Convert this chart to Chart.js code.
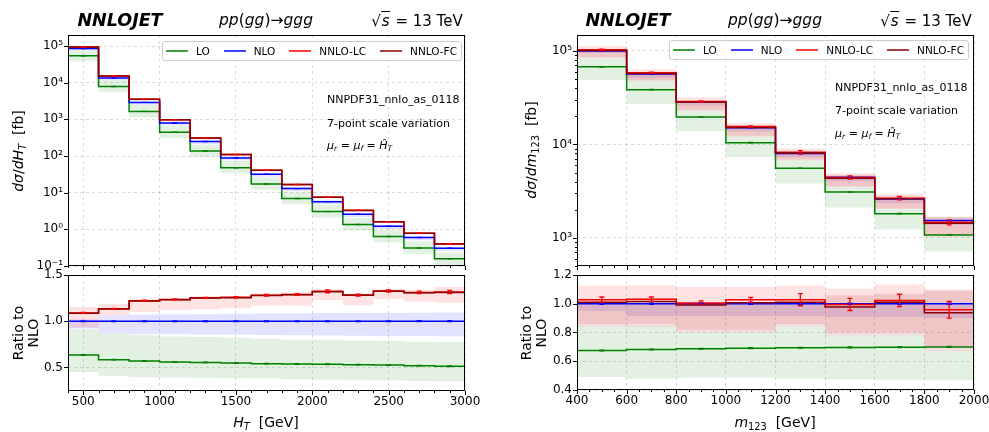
<!DOCTYPE html>
<html>
<head>
<meta charset="utf-8">
<script src="https://cdn.jsdelivr.net/npm/chart.js@4.4.1/dist/chart.umd.min.js"></script>
<style>
  body { margin: 0; background: #fff; overflow: hidden; font-family: "DejaVu Sans", sans-serif; }
  #wrap { position: relative; width: 989px; height: 432px; overflow: hidden; }
  canvas { position: absolute; z-index: 1; }
  .t { position: absolute; white-space: nowrap; transform: translate(-50%, -50%); color: #000; z-index: 2; }
  .rot { transform: translate(-50%, -50%) rotate(-90deg); text-align: center; }
  .note { position: absolute; white-space: nowrap; transform: translateY(-50%); font-size: 11px; z-index: 2; }
  sub { font-size: 0.7em; vertical-align: -0.3em; line-height: 0; }
  .legend { position: absolute; z-index: 3; height: 20px; box-sizing: border-box; border: 1px solid #cccccc;
            border-radius: 3px; background: rgba(255,255,255,0.85); display: flex; align-items: center;
            padding: 0 4px 0 3px; font-size: 10.5px; }
  .legend .it { display: flex; align-items: center; margin-right: 14px; }
  .legend .it:last-child { margin-right: 0; }
  .legend .ln { display: inline-block; width: 22px; height: 2px; margin-right: 8px; opacity: 0.75; }
</style>
</head>
<body>
<div id="wrap">
  <canvas id="cTL" width="490" height="285" style="left:0;top:0"></canvas>
  <canvas id="cBL" width="490" height="170" style="left:0;top:262px"></canvas>
  <canvas id="cTR" width="520" height="285" style="left:490px;top:0"></canvas>
  <canvas id="cBR" width="520" height="170" style="left:490px;top:262px"></canvas>

  <div class="t" style="left:120px;top:20px;font-size:17.5px;font-weight:bold;font-style:italic">NNLOJET</div>
  <div class="t" style="left:266px;top:20px;font-size:15.5px"><i>pp</i>(<i>gg</i>)→<i>ggg</i></div>
  <div class="t" style="left:417px;top:21px;font-size:15px">√<span style="border-top:1px solid #000;font-style:italic;padding:0 1px">s</span> = 13 TeV</div>
  <div class="t" style="left:628px;top:20px;font-size:17.5px;font-weight:bold;font-style:italic">NNLOJET</div>
  <div class="t" style="left:775px;top:20px;font-size:15.5px"><i>pp</i>(<i>gg</i>)→<i>ggg</i></div>
  <div class="t" style="left:926px;top:21px;font-size:15px">√<span style="border-top:1px solid #000;font-style:italic;padding:0 1px">s</span> = 13 TeV</div>

  <div class="legend" id="legL" style="left:162px;top:41px"></div>
  <div class="legend" id="legR" style="left:669px;top:40px"></div>

  <div class="note" style="left:327px;top:99px">NNPDF31_nnlo_as_0118</div>
  <div class="note" style="left:327px;top:123px">7-point scale variation</div>
  <div class="note" style="left:327px;top:145px"><i>μ</i><sub><i>r</i></sub> = <i>μ</i><sub><i>f</i></sub> = <i>Ĥ</i><sub><i>T</i></sub></div>
  <div class="note" style="left:835px;top:87px">NNPDF31_nnlo_as_0118</div>
  <div class="note" style="left:835px;top:110px">7-point scale variation</div>
  <div class="note" style="left:835px;top:133px"><i>μ</i><sub><i>r</i></sub> = <i>μ</i><sub><i>f</i></sub> = <i>Ĥ</i><sub><i>T</i></sub></div>

  <div class="t rot" style="left:18px;top:151px;font-size:14px"><i>dσ</i>/<i>dH</i><sub><i>T</i></sub>&nbsp;&nbsp;[fb]</div>
  <div class="t rot" style="left:26px;top:333px;font-size:14px;line-height:15px">Ratio to<br>NLO</div>
  <div class="t" style="left:266px;top:422px;font-size:14px"><i>H</i><sub><i>T</i></sub>&nbsp;&nbsp;[GeV]</div>
  <div class="t rot" style="left:531px;top:150px;font-size:14px"><i>dσ</i>/<i>dm</i><sub>123</sub>&nbsp;&nbsp;[fb]</div>
  <div class="t rot" style="left:534px;top:333px;font-size:14px;line-height:15px">Ratio to<br>NLO</div>
  <div class="t" style="left:775px;top:422px;font-size:14px"><i>m</i><sub>123</sub>&nbsp;&nbsp;[GeV]</div>
</div>

<script>
// series
const seriesNames = ['LO', 'NLO', 'NNLO-LC', 'NNLO-FC'];
const lineColors = ['#008000', '#0000ff', '#ff0000', '#8b0000'];
const bandColors = ['rgba(0,128,0,0.11)', 'rgba(0,0,255,0.11)', 'rgba(255,0,0,0.11)', 'rgba(139,0,0,0.13)'];

// ---- H_T distribution (left) ----
const htEdges = [400, 600, 800, 1000, 1200, 1400, 1600, 1800, 2000, 2200, 2400, 2600, 2800, 3000];
const htNLO = [8.6e4, 1.34e4, 2.9e3, 795, 248, 88, 32, 12.9, 5.7, 2.57, 1.22, 0.60, 0.305];
const htRatioLO = [0.634, 0.584, 0.569, 0.558, 0.554, 0.547, 0.541, 0.537, 0.534, 0.530, 0.525, 0.519, 0.513];
const htRatioNLO = [1, 1, 1, 1, 1, 1, 1, 1, 1, 1, 1, 1, 1];
const htRatioLC = [1.090, 1.134, 1.221, 1.236, 1.253, 1.258, 1.281, 1.290, 1.323, 1.283, 1.326, 1.312, 1.316];
const htRatioFC = [1.087, 1.131, 1.218, 1.232, 1.250, 1.255, 1.278, 1.286, 1.320, 1.280, 1.323, 1.308, 1.312];
const htLOlo = [0.45, 0.41, 0.395, 0.39, 0.386, 0.383, 0.38, 0.372, 0.368, 0.362, 0.358, 0.353, 0.35];
const htLOhi = [0.915, 0.866, 0.848, 0.835, 0.83, 0.825, 0.81, 0.80, 0.80, 0.79, 0.785, 0.778, 0.775];
const htNLOlo = [0.92, 0.866, 0.86, 0.858, 0.856, 0.855, 0.852, 0.848, 0.845, 0.843, 0.84, 0.84, 0.838];
const htNLOhi = [1.02, 1.065, 1.072, 1.076, 1.078, 1.08, 1.083, 1.085, 1.088, 1.09, 1.09, 1.092, 1.094];
const htLClo = [0.93, 1.065, 1.10, 1.12, 1.13, 1.14, 1.168, 1.166, 1.23, 1.174, 1.24, 1.21, 1.20];
const htLChi = [1.155, 1.19, 1.245, 1.25, 1.27, 1.27, 1.30, 1.31, 1.345, 1.30, 1.35, 1.34, 1.37];
const htErrLO = [0.003, 0.003, 0.003, 0.003, 0.003, 0.003, 0.003, 0.003, 0.003, 0.003, 0.003, 0.003, 0.003];
const htErrNLO = [0.003, 0.003, 0.003, 0.003, 0.003, 0.003, 0.003, 0.003, 0.004, 0.004, 0.004, 0.005, 0.005];
const htErrLC = [0.005, 0.005, 0.006, 0.006, 0.006, 0.007, 0.008, 0.009, 0.015, 0.010, 0.012, 0.014, 0.018];
const htMajorX = [500, 1000, 1500, 2000, 2500, 3000];
const htLogTicks = [0.1, 1, 10, 100, 1000, 1e4, 1e5];
const htRatioTicks = [0.5, 1.0, 1.5];

// ---- m_123 distribution (right) ----
const mEdges = [400, 600, 800, 1000, 1200, 1400, 1600, 1800, 2000];
const mNLO = [1.0e5, 5.65e4, 2.86e4, 1.51e4, 8.0e3, 4.45e3, 2.6e3, 1.53e3];
const mRatioLO = [0.675, 0.682, 0.687, 0.691, 0.694, 0.696, 0.698, 0.700];
const mRatioNLO = [1, 1, 1, 1, 1, 1, 1, 1];
const mRatioLC = [1.028, 1.032, 1.005, 1.028, 1.028, 0.995, 1.023, 0.958];
const mRatioFC = [1.011, 1.016, 0.992, 1.007, 1.011, 0.977, 1.011, 0.937];
const mLOlo = [0.49, 0.478, 0.485, 0.485, 0.478, 0.475, 0.472, 0.467];
const mLOhi = [0.838, 0.84, 0.796, 0.80, 0.838, 0.78, 0.78, 0.67];
const mNLOlo = [0.95, 0.915, 0.915, 0.915, 0.915, 0.907, 0.907, 0.90];
const mNLOhi = [1.0, 1.005, 1.005, 1.005, 1.005, 1.0, 1.0, 1.0];
const mLClo = [0.86, 0.86, 0.82, 0.82, 0.86, 0.80, 0.80, 0.70];
const mLChi = [1.127, 1.128, 1.116, 1.116, 1.127, 1.104, 1.134, 1.10];
const mFClo = [0.838, 0.838, 0.796, 0.80, 0.838, 0.78, 0.78, 0.67];
const mFChi = [1.01, 1.016, 0.992, 1.007, 1.011, 1.058, 1.07, 1.09];
const mErrLO = [0.003, 0.003, 0.003, 0.003, 0.003, 0.003, 0.003, 0.003];
const mErrNLO = [0.004, 0.004, 0.004, 0.004, 0.004, 0.004, 0.004, 0.004];
const mErrLC = [0.019, 0.015, 0.015, 0.016, 0.042, 0.042, 0.043, 0.058];
const mMajorX = [400, 600, 800, 1000, 1200, 1400, 1600, 1800, 2000];
const mLogTicks = [1e3, 1e4, 1e5];
const mRatioTicks = [0.4, 0.6, 0.8, 1.0, 1.2];

Chart.defaults.font.family = 'DejaVu Sans';
Chart.defaults.font.size = 12;
Chart.defaults.color = '#000';

const gridColor = 'rgba(0,0,0,0.18)';
const supDigits = { '-': '⁻', '0': '⁰', '1': '¹', '2': '²', '3': '³', '4': '⁴', '5': '⁵', '6': '⁶', '7': '⁷', '8': '⁸', '9': '⁹' };
const logLabel = v => '10' + String(Math.round(Math.log10(v))).split('').map(c => supDigits[c]).join('');

const mul = (a, b) => a.map((v, i) => v * b[i]);
const centers = edges => edges.slice(0, -1).map((e, i) => (e + edges[i + 1]) / 2);
// histogram as step line: one point per left edge plus the closing right edge
const steps = (edges, vals) => edges.map((e, i) => ({ x: e, y: vals[Math.min(i, vals.length - 1)] }));

function linTicks(min, max, step, majors) {
  const t = [];
  for (let v = min; v <= max; v += step) t.push({ value: v, major: majors.includes(v) });
  return t;
}
function logTicks(min, max, majors, withMinor) {
  const t = [];
  for (let d = -2; d <= 6; d++) {
    for (let k = 1; k <= 9; k++) {
      const v = k * Math.pow(10, d);
      if (v < min || v > max) continue;
      if (k === 1) t.push({ value: v, major: true });
      else if (withMinor) t.push({ value: v, major: false });
    }
  }
  return t.filter(x => !x.major || majors.some(m => Math.abs(m - x.value) / m < 1e-9));
}

function lineSet(edges, vals, s) {
  return { data: steps(edges, vals), borderColor: lineColors[s], borderWidth: 1.5, stepped: true,
           pointRadius: 0, fill: false, order: 3 - s };
}
function bandSet(edges, lo, hi, s) {
  return [
    { data: steps(edges, hi), borderWidth: 0, borderColor: 'rgba(0,0,0,0)', backgroundColor: bandColors[s],
      stepped: true, pointRadius: 0, fill: '+1', order: 13 - s },
    { data: steps(edges, lo), borderWidth: 0, borderColor: 'rgba(0,0,0,0)', stepped: true,
      pointRadius: 0, fill: false, order: 13 - s }
  ];
}

// frame around the plot area and outward tick marks (major longer than minor)
const frameTicks = {
  id: 'frameTicks',
  afterDraw(chart) {
    const { ctx, chartArea: a, scales: { x, y } } = chart;
    ctx.save();
    ctx.strokeStyle = '#000';
    ctx.lineWidth = 1;
    ctx.beginPath();
    x.ticks.forEach(t => {
      const px = Math.round(x.getPixelForValue(t.value)) + 0.5;
      ctx.moveTo(px, a.bottom); ctx.lineTo(px, a.bottom + (t.major ? 4 : 2));
    });
    y.ticks.forEach(t => {
      const py = Math.round(y.getPixelForValue(t.value)) + 0.5;
      ctx.moveTo(a.left, py); ctx.lineTo(a.left - (t.major ? 4 : 2), py);
    });
    ctx.stroke();
    ctx.strokeRect(a.left + 0.5, a.top + 0.5, a.width - 1, a.height - 1);
    ctx.restore();
  }
};

function errorBars(sets) {
  return {
    id: 'errorBars',
    afterDatasetsDraw(chart) {
      const { ctx, chartArea: a, scales: { x, y } } = chart;
      ctx.save();
      ctx.beginPath(); ctx.rect(a.left, a.top, a.width, a.height); ctx.clip();
      sets.forEach(s => {
        ctx.strokeStyle = s.color;
        ctx.lineWidth = 1.3;
        s.x.forEach((xv, i) => {
          const px = x.getPixelForValue(xv);
          const p1 = y.getPixelForValue(s.y[i] - s.err[i]);
          const p2 = y.getPixelForValue(s.y[i] + s.err[i]);
          ctx.beginPath();
          ctx.moveTo(px, p1); ctx.lineTo(px, p2);
          ctx.moveTo(px - 2.5, p1); ctx.lineTo(px + 2.5, p1);
          ctx.moveTo(px - 2.5, p2); ctx.lineTo(px + 2.5, p2);
          ctx.stroke();
        });
      });
      ctx.restore();
    }
  };
}

function buildChart(id, p) {
  return new Chart(document.getElementById(id), {
    type: 'line',
    data: { datasets: p.datasets },
    options: {
      responsive: false,
      animation: false,
      devicePixelRatio: 1,
      layout: { padding: p.padding },
      plugins: { legend: { display: false }, tooltip: { enabled: false } },
      scales: {
        x: {
          type: 'linear', min: p.xMin, max: p.xMax,
          afterBuildTicks: s => { s.ticks = p.xTicks.map(t => ({ ...t })); },
          afterFit: s => { s.height = p.xHeight; },
          ticks: { autoSkip: false, maxRotation: 0, padding: 4,
                   callback: (v, i, t) => (p.xLabels && t[i].major) ? String(v) : '' },
          grid: { drawTicks: false, lineWidth: 0.8,
                  color: c => (c.tick && c.tick.major) ? gridColor : 'rgba(0,0,0,0)' },
          border: { display: false, dash: [3, 3] }
        },
        y: {
          type: p.yType, min: p.yMin, max: p.yMax,
          afterBuildTicks: s => { s.ticks = p.yTicks.map(t => ({ ...t })); },
          afterFit: s => { s.width = p.yWidth; },
          ticks: { autoSkip: false, padding: 5, callback: (v, i, t) => t[i].major ? p.yFmt(v) : '' },
          grid: { drawTicks: false, lineWidth: 0.8,
                  color: c => (c.tick && c.tick.major) ? gridColor : 'rgba(0,0,0,0)' },
          border: { display: false, dash: [3, 3] }
        }
      }
    },
    plugins: [frameTicks, errorBars(p.errs)]
  });
}

// ---- left panels ----
const htC = centers(htEdges);
const htX = linTicks(400, 3000, 100, htMajorX);
buildChart('cTL', {
  datasets: [
    lineSet(htEdges, mul(htNLO, htRatioFC), 3),
    lineSet(htEdges, mul(htNLO, htRatioLC), 2),
    lineSet(htEdges, htNLO, 1),
    lineSet(htEdges, mul(htNLO, htRatioLO), 0),
    ...bandSet(htEdges, mul(htNLO, htLClo), mul(htNLO, htLChi), 2),
    ...bandSet(htEdges, mul(htNLO, htNLOlo), mul(htNLO, htNLOhi), 1),
    ...bandSet(htEdges, mul(htNLO, htLOlo), mul(htNLO, htLOhi), 0)
  ],
  padding: { top: 35, right: 25, bottom: 19, left: 0 },
  xMin: 400, xMax: 3000, xTicks: htX, xLabels: false, xHeight: 0,
  yType: 'logarithmic', yMin: 0.1, yMax: 2.0e5, yTicks: logTicks(0.1, 2e5, htLogTicks, false),
  yFmt: logLabel, yWidth: 68,
  errs: [
    { x: htC, y: mul(htNLO, htRatioLO), err: mul(htNLO, htErrLO), color: lineColors[0] },
    { x: htC, y: htNLO, err: mul(htNLO, htErrNLO), color: lineColors[1] },
    { x: htC, y: mul(htNLO, htRatioLC), err: mul(htNLO, htErrLC), color: lineColors[2] }
  ]
});
buildChart('cBL', {
  datasets: [
    lineSet(htEdges, htRatioFC, 3),
    lineSet(htEdges, htRatioLC, 2),
    lineSet(htEdges, htRatioNLO, 1),
    lineSet(htEdges, htRatioLO, 0),
    ...bandSet(htEdges, htLClo, htLChi, 2),
    ...bandSet(htEdges, htNLOlo, htNLOhi, 1),
    ...bandSet(htEdges, htLOlo, htLOhi, 0)
  ],
  padding: { top: 13, right: 25, bottom: 0, left: 0 },
  xMin: 400, xMax: 3000, xTicks: htX, xLabels: true, xHeight: 41,
  yType: 'linear', yMin: 0.245, yMax: 1.5, yTicks: htRatioTicks.map(v => ({ value: v, major: true })),
  yFmt: v => v.toFixed(1), yWidth: 68,
  errs: [
    { x: htC, y: htRatioLO, err: htErrLO, color: lineColors[0] },
    { x: htC, y: htRatioNLO, err: htErrNLO, color: lineColors[1] },
    { x: htC, y: htRatioLC, err: htErrLC, color: lineColors[2] }
  ]
});

// ---- right panels ----
const mC = centers(mEdges);
const mX = linTicks(400, 2000, 50, mMajorX);
buildChart('cTR', {
  datasets: [
    lineSet(mEdges, mul(mNLO, mRatioFC), 3),
    lineSet(mEdges, mul(mNLO, mRatioLC), 2),
    lineSet(mEdges, mNLO, 1),
    lineSet(mEdges, mul(mNLO, mRatioLO), 0),
    ...bandSet(mEdges, mul(mNLO, mFClo), mul(mNLO, mFChi), 3),
    ...bandSet(mEdges, mul(mNLO, mLClo), mul(mNLO, mLChi), 2),
    ...bandSet(mEdges, mul(mNLO, mNLOlo), mul(mNLO, mNLOhi), 1),
    ...bandSet(mEdges, mul(mNLO, mLOlo), mul(mNLO, mLOhi), 0)
  ],
  padding: { top: 35, right: 36, bottom: 19, left: 0 },
  xMin: 400, xMax: 2000, xTicks: mX, xLabels: false, xHeight: 0,
  yType: 'logarithmic', yMin: 500, yMax: 1.48e5, yTicks: logTicks(500, 1.48e5, mLogTicks, true),
  yFmt: logLabel, yWidth: 87,
  errs: [
    { x: mC, y: mul(mNLO, mRatioLO), err: mul(mNLO, mErrLO), color: lineColors[0] },
    { x: mC, y: mNLO, err: mul(mNLO, mErrNLO), color: lineColors[1] },
    { x: mC, y: mul(mNLO, mRatioLC), err: mul(mNLO, mErrLC), color: lineColors[2] }
  ]
});
buildChart('cBR', {
  datasets: [
    lineSet(mEdges, mRatioFC, 3),
    lineSet(mEdges, mRatioLC, 2),
    lineSet(mEdges, mRatioNLO, 1),
    lineSet(mEdges, mRatioLO, 0),
    ...bandSet(mEdges, mFClo, mFChi, 3),
    ...bandSet(mEdges, mLClo, mLChi, 2),
    ...bandSet(mEdges, mNLOlo, mNLOhi, 1),
    ...bandSet(mEdges, mLOlo, mLOhi, 0)
  ],
  padding: { top: 13, right: 36, bottom: 0, left: 0 },
  xMin: 400, xMax: 2000, xTicks: mX, xLabels: true, xHeight: 42,
  yType: 'linear', yMin: 0.4, yMax: 1.2, yTicks: mRatioTicks.map(v => ({ value: v, major: true })),
  yFmt: v => v.toFixed(1), yWidth: 87,
  errs: [
    { x: mC, y: mRatioLO, err: mErrLO, color: lineColors[0] },
    { x: mC, y: mRatioNLO, err: mErrNLO, color: lineColors[1] },
    { x: mC, y: mRatioLC, err: mErrLC, color: lineColors[2] }
  ]
});

// legends
['legL', 'legR'].forEach(id => {
  document.getElementById(id).innerHTML = seriesNames.map((n, i) =>
    '<div class="it"><span class="ln" style="background:' + lineColors[i] + '"></span>' + n + '</div>').join('');
});
</script>
</body>
</html>
